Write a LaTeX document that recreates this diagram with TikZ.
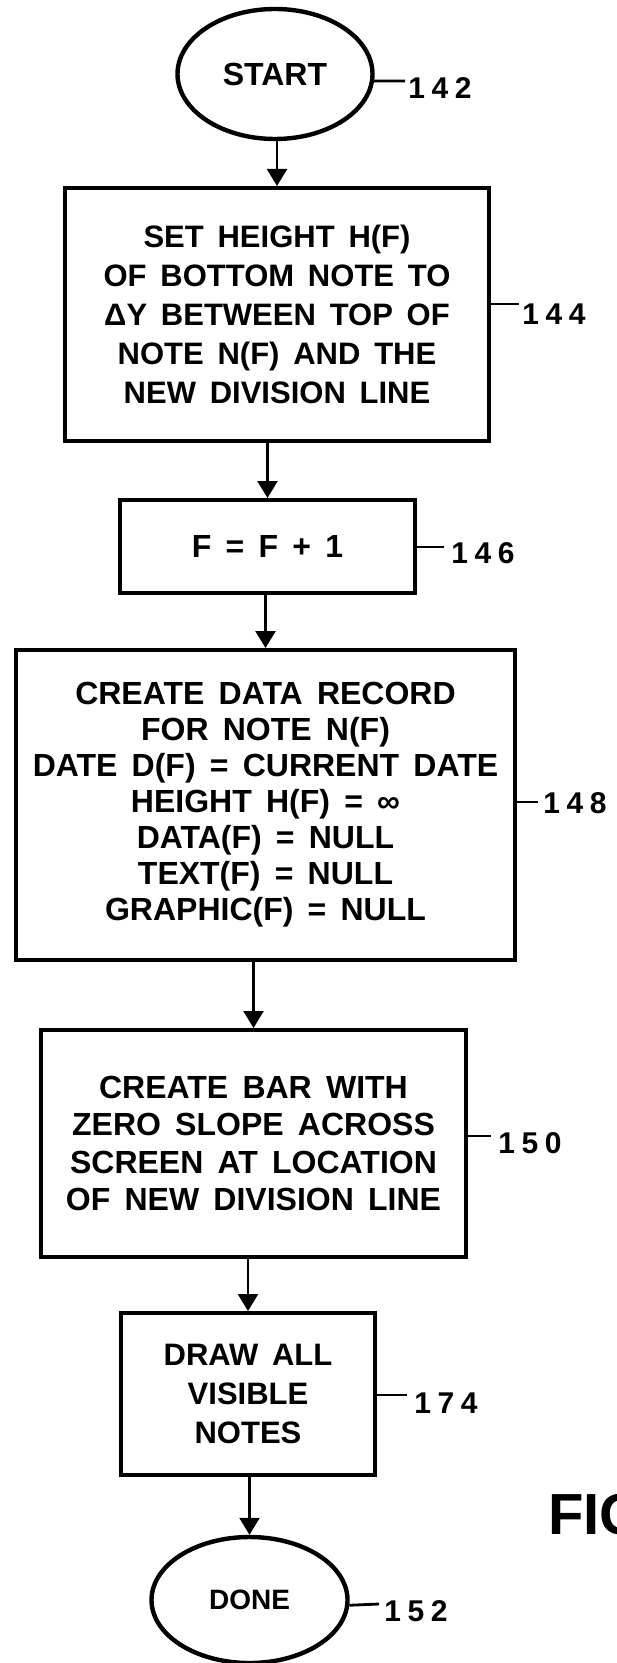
\documentclass[tikz,border=0pt]{standalone}
\usepackage{fontspec}
\setmainfont{Liberation Sans}[WordSpace=1.6]
\newfontfamily\labfont[LetterSpace=22]{Liberation Sans}
\usetikzlibrary{arrows.meta,shapes.geometric}
\begin{document}
\begin{tikzpicture}[x=0.5pt,y=-0.5pt,
  box/.style={draw, line width=2pt, rectangle, inner sep=0pt, align=center,
    font=\bfseries\fontsize{16}{18}\selectfont},
  term/.style={draw, line width=2.2pt, ellipse, inner sep=0pt,
    font=\bfseries\fontsize{16}{19}\selectfont},
  flow/.style={line width=1.2pt, -{Triangle[length=8.5pt,width=10pt]}},
  lead/.style={line width=1.4pt},
  lab/.style={inner sep=0pt, anchor=west, font=\labfont\bfseries\fontsize{15}{17}\selectfont}]
\useasboundingbox (0,0) rectangle (616,1663);
\clip (0,0) rectangle (616,1663);

\node[term, minimum width=97.5pt, minimum height=65pt] (start) at (275,74) {START};
\node[box, minimum width=212pt, minimum height=126.5pt,
  font=\bfseries\fontsize{15.5}{19.5}\selectfont] (b144) at (277,314.5)
  {SET HEIGHT H(F)\\OF BOTTOM NOTE TO\\ΔY BETWEEN TOP OF\\NOTE N(F) AND THE\\NEW DIVISION LINE};
\node[box, minimum width=147.5pt, minimum height=46.5pt] (b146) at (267.5,546.5) {F = F + 1};
\node[box, minimum width=249.5pt, minimum height=155pt] (b148) at (265.5,805)
  {CREATE DATA RECORD\\FOR NOTE N(F)\\DATE D(F) = CURRENT DATE\\HEIGHT H(F) = ∞\\DATA(F) = NULL\\TEXT(F) = NULL\\GRAPHIC(F) = NULL};
\node[box, minimum width=212.5pt, minimum height=113.5pt,
  font=\bfseries\fontsize{16}{18.75}\selectfont] (b150) at (253.5,1143.5)
  {CREATE BAR WITH\\ZERO SLOPE ACROSS\\SCREEN AT LOCATION\\OF NEW DIVISION LINE};
\node[box, minimum width=127pt, minimum height=81pt,
  font=\bfseries\fontsize{15.5}{19.5}\selectfont] (b174) at (248,1394)
  {DRAW ALL\\VISIBLE\\NOTES};
\node[term, minimum width=98pt, minimum height=63pt,
  font=\bfseries\fontsize{14}{16}\selectfont] (done) at (249.5,1600) {DONE};

\draw[flow] (start.south -| b144.north) -- (b144.north);
\draw[flow] (b144.south -| b146.north) -- (b146.north);
\draw[flow] (b146.south -| b148.north) -- (b148.north);
\draw[flow] (b148.south -| b150.north) -- (b150.north);
\draw[flow] (b150.south -| b174.north) -- (b174.north);
\draw[flow] (b174.south -| done.north) -- (done.north);

\coordinate (l142) at (405,81);
\draw[lead] (start.-4) -- (l142);
\node[lab] (t142) at (408,88) {142};

\coordinate (l144) at (519,304);
\draw[lead] (b144.east |- l144) -- (l144);
\node[lab] (t144) at (522,314) {144};

\coordinate (l146) at (444,547);
\draw[lead] (b146.east |- l146) -- (l146);
\node[lab] (t146) at (451,553) {146};

\coordinate (l148) at (538,802);
\draw[lead] (b148.east |- l148) -- (l148);
\node[lab] (t148) at (543,803) {148};

\coordinate (l150) at (491,1136);
\draw[lead] (b150.east |- l150) -- (l150);
\node[lab] (t150) at (498,1143) {150};

\coordinate (l174) at (407,1395);
\draw[lead] (b174.east |- l174) -- (l174);
\node[lab] (t174) at (414,1403) {174};

\coordinate (l152) at (379,1604);
\draw[lead] (done.-3) -- (l152);
\node[lab] (t152) at (384,1611) {152};

\node[inner sep=0pt, anchor=south west, font=\bfseries\fontsize{29}{30}\selectfont] (fig) at (548,1535) {FIG};
\end{tikzpicture}
\end{document}
